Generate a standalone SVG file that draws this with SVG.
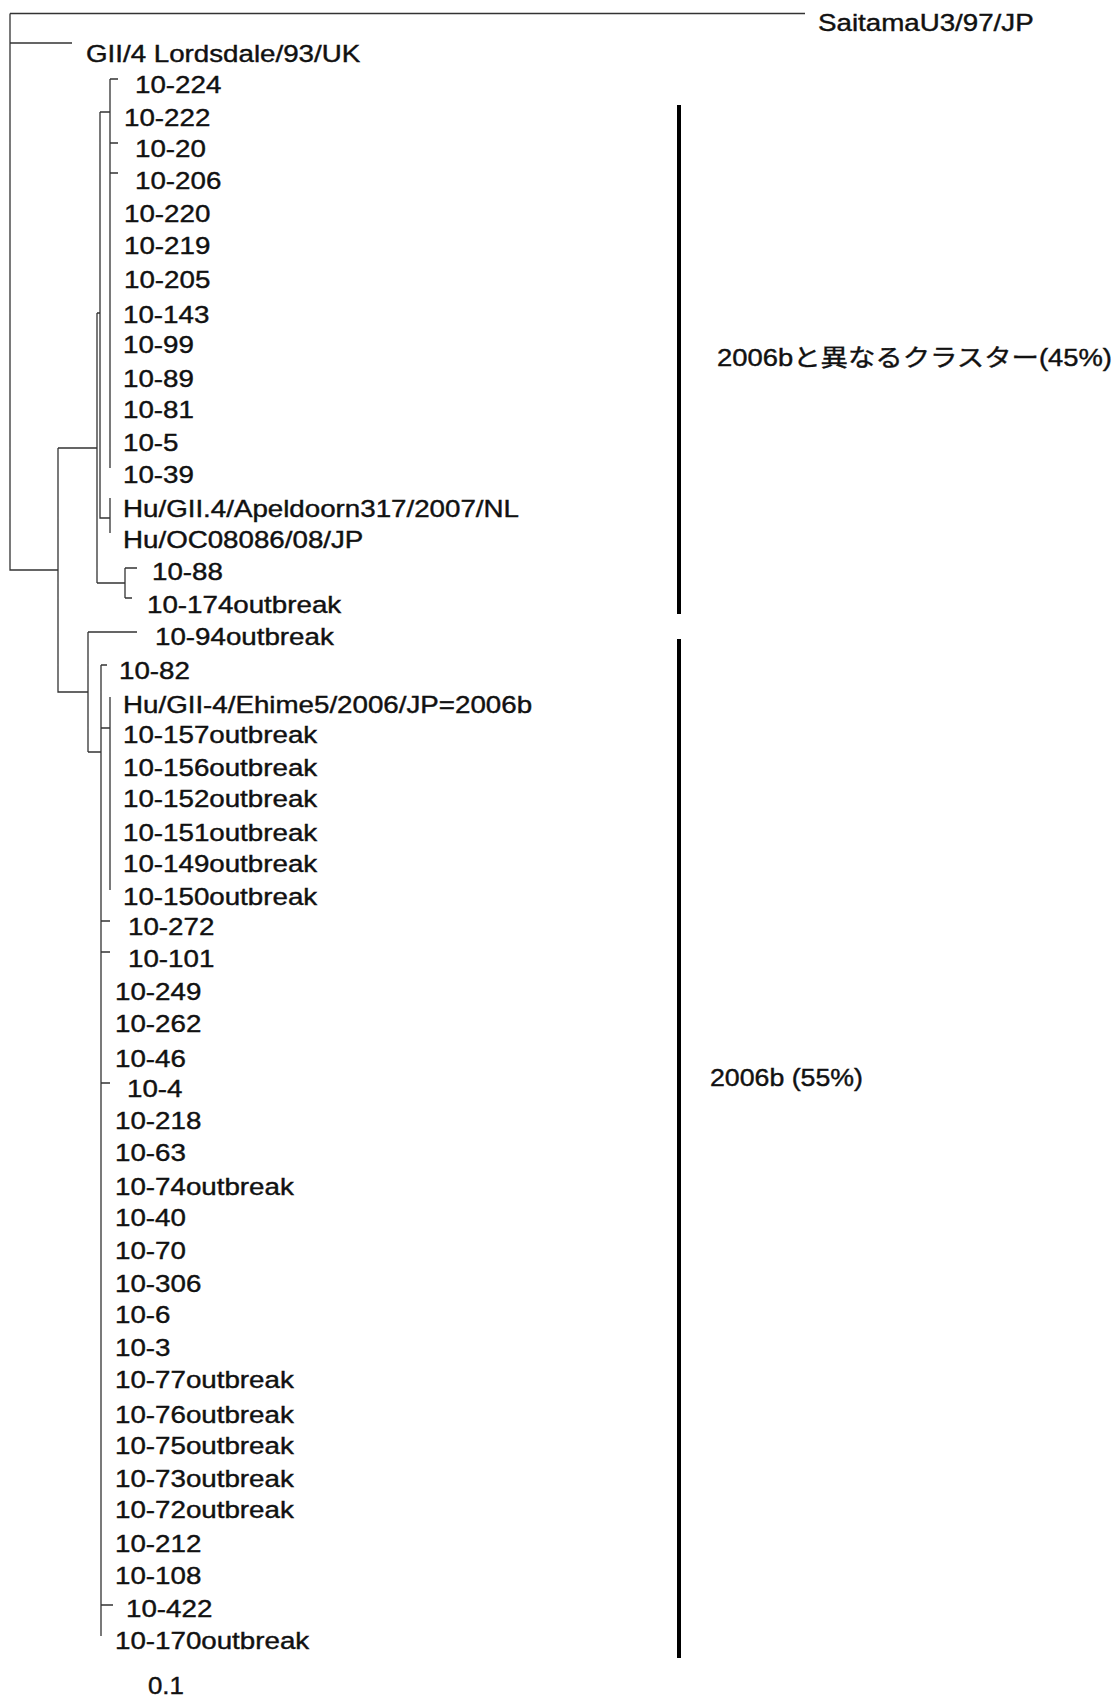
<svg xmlns="http://www.w3.org/2000/svg" width="1116" height="1704" viewBox="0 0 1116 1704">
<style>
.t{font-family:"Liberation Sans","Noto Sans CJK JP",Arial,sans-serif;font-size:23.5px;fill:#111;stroke:#111;stroke-width:0.4}
.e{stroke:#333;stroke-width:1.3;fill:none}
.br{stroke:#000;stroke-width:4;fill:none}
</style>
<rect width="1116" height="1704" fill="#fff"/>
<g id="connectors">
<path class="e" d="M10,13.5 H805 M10,13.5 V570 H58 M10,43 H72 M58,448 V692 H88 M58,448 H97 M97,313 V583 M97,313 H100 M100,112 V518 H110 M100,112 H110 M110,79 V468 M110,79 H118 M110,143 H118 M110,173 H118 M110,498 V533 M97,583 H125 M125,568 V598 M125,568 H137 M125,598 H132 M88,632 V752 M88,632 H137 M88,752 H101 M101,665 V1636 M101,665 H107 M110,697 V890 M101,728 H110 M101,921 H110 M101,952 H110 M101,1083 H110 M101,1605 H113"/>
</g>
<g id="brackets">
<path class="br" d="M679,105 V614"/>
<path class="br" d="M679,639 V1658"/>
</g>
<g id="n-saitama"><text class="t" transform="translate(818,31) scale(1.18,1)">SaitamaU3/97/JP</text></g>
<g id="n-lordsdale"><text class="t" transform="translate(86,62) scale(1.18,1)">GII/4 Lordsdale/93/UK</text></g>
<g id="n-10-224"><text class="t" transform="translate(135,93) scale(1.18,1)">10-224</text></g>
<g id="n-10-222"><text class="t" transform="translate(124,126) scale(1.18,1)">10-222</text></g>
<g id="n-10-20"><text class="t" transform="translate(135,157) scale(1.18,1)">10-20</text></g>
<g id="n-10-206"><text class="t" transform="translate(135,189) scale(1.18,1)">10-206</text></g>
<g id="n-10-220"><text class="t" transform="translate(124,222) scale(1.18,1)">10-220</text></g>
<g id="n-10-219"><text class="t" transform="translate(124,254) scale(1.18,1)">10-219</text></g>
<g id="n-10-205"><text class="t" transform="translate(124,288) scale(1.18,1)">10-205</text></g>
<g id="n-10-143"><text class="t" transform="translate(123,323) scale(1.18,1)">10-143</text></g>
<g id="n-10-99"><text class="t" transform="translate(123,353) scale(1.18,1)">10-99</text></g>
<g id="n-10-89"><text class="t" transform="translate(123,387) scale(1.18,1)">10-89</text></g>
<g id="n-10-81"><text class="t" transform="translate(123,418) scale(1.18,1)">10-81</text></g>
<g id="n-10-5"><text class="t" transform="translate(123,451) scale(1.18,1)">10-5</text></g>
<g id="n-10-39"><text class="t" transform="translate(123,483) scale(1.18,1)">10-39</text></g>
<g id="n-apeldoorn"><text class="t" transform="translate(123,517) scale(1.18,1)">Hu/GII.4/Apeldoorn317/2007/NL</text></g>
<g id="n-oc08086"><text class="t" transform="translate(123,548) scale(1.18,1)">Hu/OC08086/08/JP</text></g>
<g id="n-10-88"><text class="t" transform="translate(152,580) scale(1.18,1)">10-88</text></g>
<g id="n-10-174"><text class="t" transform="translate(147,613) scale(1.18,1)">10-174outbreak</text></g>
<g id="n-10-94"><text class="t" transform="translate(155,645) scale(1.18,1)">10-94outbreak</text></g>
<g id="n-10-82"><text class="t" transform="translate(119,679) scale(1.18,1)">10-82</text></g>
<g id="n-ehime"><text class="t" transform="translate(123,713) scale(1.18,1)">Hu/GII-4/Ehime5/2006/JP=2006b</text></g>
<g id="n-10-157"><text class="t" transform="translate(123,743) scale(1.18,1)">10-157outbreak</text></g>
<g id="n-10-156"><text class="t" transform="translate(123,776) scale(1.18,1)">10-156outbreak</text></g>
<g id="n-10-152"><text class="t" transform="translate(123,807) scale(1.18,1)">10-152outbreak</text></g>
<g id="n-10-151"><text class="t" transform="translate(123,841) scale(1.18,1)">10-151outbreak</text></g>
<g id="n-10-149"><text class="t" transform="translate(123,872) scale(1.18,1)">10-149outbreak</text></g>
<g id="n-10-150"><text class="t" transform="translate(123,905) scale(1.18,1)">10-150outbreak</text></g>
<g id="n-10-272"><text class="t" transform="translate(128,935) scale(1.18,1)">10-272</text></g>
<g id="n-10-101"><text class="t" transform="translate(128,967) scale(1.18,1)">10-101</text></g>
<g id="n-10-249"><text class="t" transform="translate(115,1000) scale(1.18,1)">10-249</text></g>
<g id="n-10-262"><text class="t" transform="translate(115,1032) scale(1.18,1)">10-262</text></g>
<g id="n-10-46"><text class="t" transform="translate(115,1067) scale(1.18,1)">10-46</text></g>
<g id="n-10-4"><text class="t" transform="translate(127,1097) scale(1.18,1)">10-4</text></g>
<g id="n-10-218"><text class="t" transform="translate(115,1129) scale(1.18,1)">10-218</text></g>
<g id="n-10-63"><text class="t" transform="translate(115,1161) scale(1.18,1)">10-63</text></g>
<g id="n-10-74"><text class="t" transform="translate(115,1195) scale(1.18,1)">10-74outbreak</text></g>
<g id="n-10-40"><text class="t" transform="translate(115,1226) scale(1.18,1)">10-40</text></g>
<g id="n-10-70"><text class="t" transform="translate(115,1259) scale(1.18,1)">10-70</text></g>
<g id="n-10-306"><text class="t" transform="translate(115,1292) scale(1.18,1)">10-306</text></g>
<g id="n-10-6"><text class="t" transform="translate(115,1323) scale(1.18,1)">10-6</text></g>
<g id="n-10-3"><text class="t" transform="translate(115,1356) scale(1.18,1)">10-3</text></g>
<g id="n-10-77"><text class="t" transform="translate(115,1388) scale(1.18,1)">10-77outbreak</text></g>
<g id="n-10-76"><text class="t" transform="translate(115,1423) scale(1.18,1)">10-76outbreak</text></g>
<g id="n-10-75"><text class="t" transform="translate(115,1454) scale(1.18,1)">10-75outbreak</text></g>
<g id="n-10-73"><text class="t" transform="translate(115,1487) scale(1.18,1)">10-73outbreak</text></g>
<g id="n-10-72"><text class="t" transform="translate(115,1518) scale(1.18,1)">10-72outbreak</text></g>
<g id="n-10-212"><text class="t" transform="translate(115,1552) scale(1.18,1)">10-212</text></g>
<g id="n-10-108"><text class="t" transform="translate(115,1584) scale(1.18,1)">10-108</text></g>
<g id="n-10-422"><text class="t" transform="translate(126,1617) scale(1.18,1)">10-422</text></g>
<g id="n-10-170"><text class="t" transform="translate(115,1649) scale(1.18,1)">10-170outbreak</text></g>
<g id="scale-label"><text class="t" transform="translate(148,1694) scale(1.1,1)">0.1</text></g>
<g id="cluster-other"><text class="t" x="717" y="366" textLength="395" lengthAdjust="spacingAndGlyphs">2006bと異なるクラスター(45%)</text></g>
<g id="cluster-2006b"><text class="t" x="710" y="1086" textLength="153" lengthAdjust="spacingAndGlyphs">2006b (55%)</text></g>
</svg>
